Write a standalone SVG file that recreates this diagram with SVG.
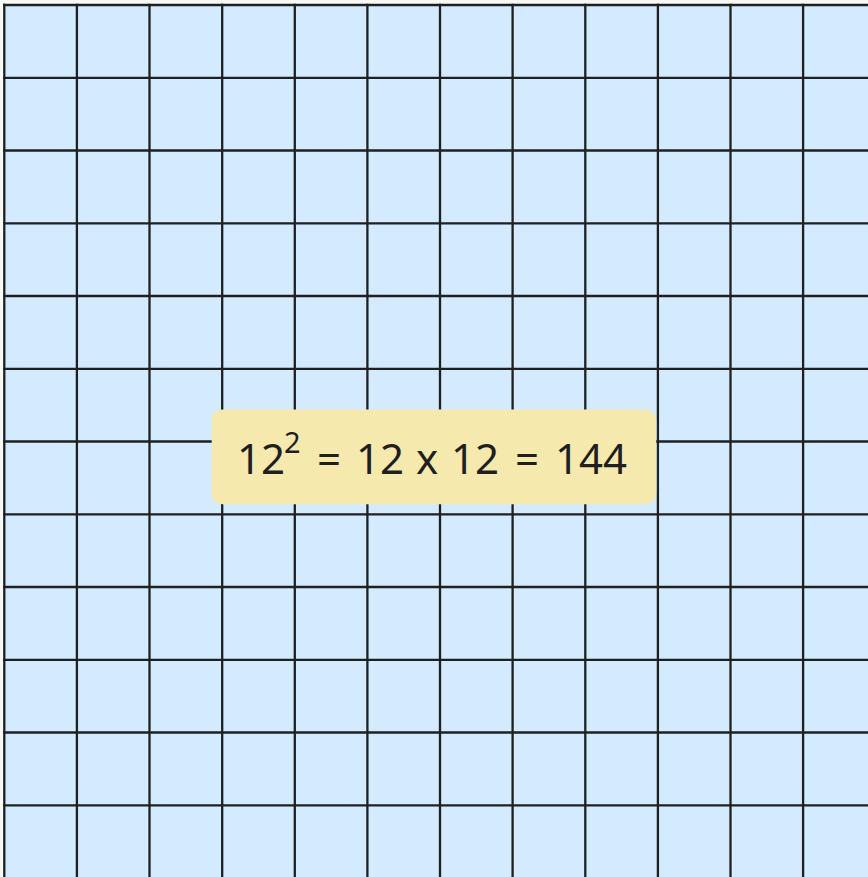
<svg xmlns="http://www.w3.org/2000/svg" width="868" height="877" viewBox="0 0 868 877">
<defs>
<style>
.ln{stroke:#1e2022;stroke-width:2.3;fill:none}
.lbl{font-family:"Noto Sans","Liberation Sans",sans-serif;fill:#1f1f1f;font-size:42px}
</style>
</defs>
<rect width="868" height="877" fill="#f8f9f4"/>
<g id="grid-area">
<rect x="4.3" y="5" width="864" height="872" fill="#d4eaff"/>
<path class="ln" d="M4.3 3.8V877M76.9 3.8V877M149.5 3.8V877M222.2 3.8V877M294.8 3.8V877M367.4 3.8V877M440 3.8V877M512.6 3.8V877M585.3 3.8V877M657.9 3.8V877M730.5 3.8V877M803.1 3.8V877"/>
<path class="ln" d="M3.1 5H868M3.1 77.8H868M3.1 150.5H868M3.1 223.3H868M3.1 296H868M3.1 368.8H868M3.1 441.5H868M3.1 514.3H868M3.1 587H868M3.1 659.8H868M3.1 732.5H868M3.1 805.3H868"/>
</g>
<g id="label">
<rect x="211.7" y="409.5" width="444.5" height="94.8" rx="11" fill="#f5e9ae"/>
<text class="lbl" y="474"><tspan x="237">12</tspan><tspan x="284" y="453" font-size="29">2</tspan><tspan x="317" y="474">=</tspan><tspan x="356">12</tspan><tspan x="416">x</tspan><tspan x="451">12</tspan><tspan x="515">=</tspan><tspan x="555">144</tspan></text>
</g>
</svg>
